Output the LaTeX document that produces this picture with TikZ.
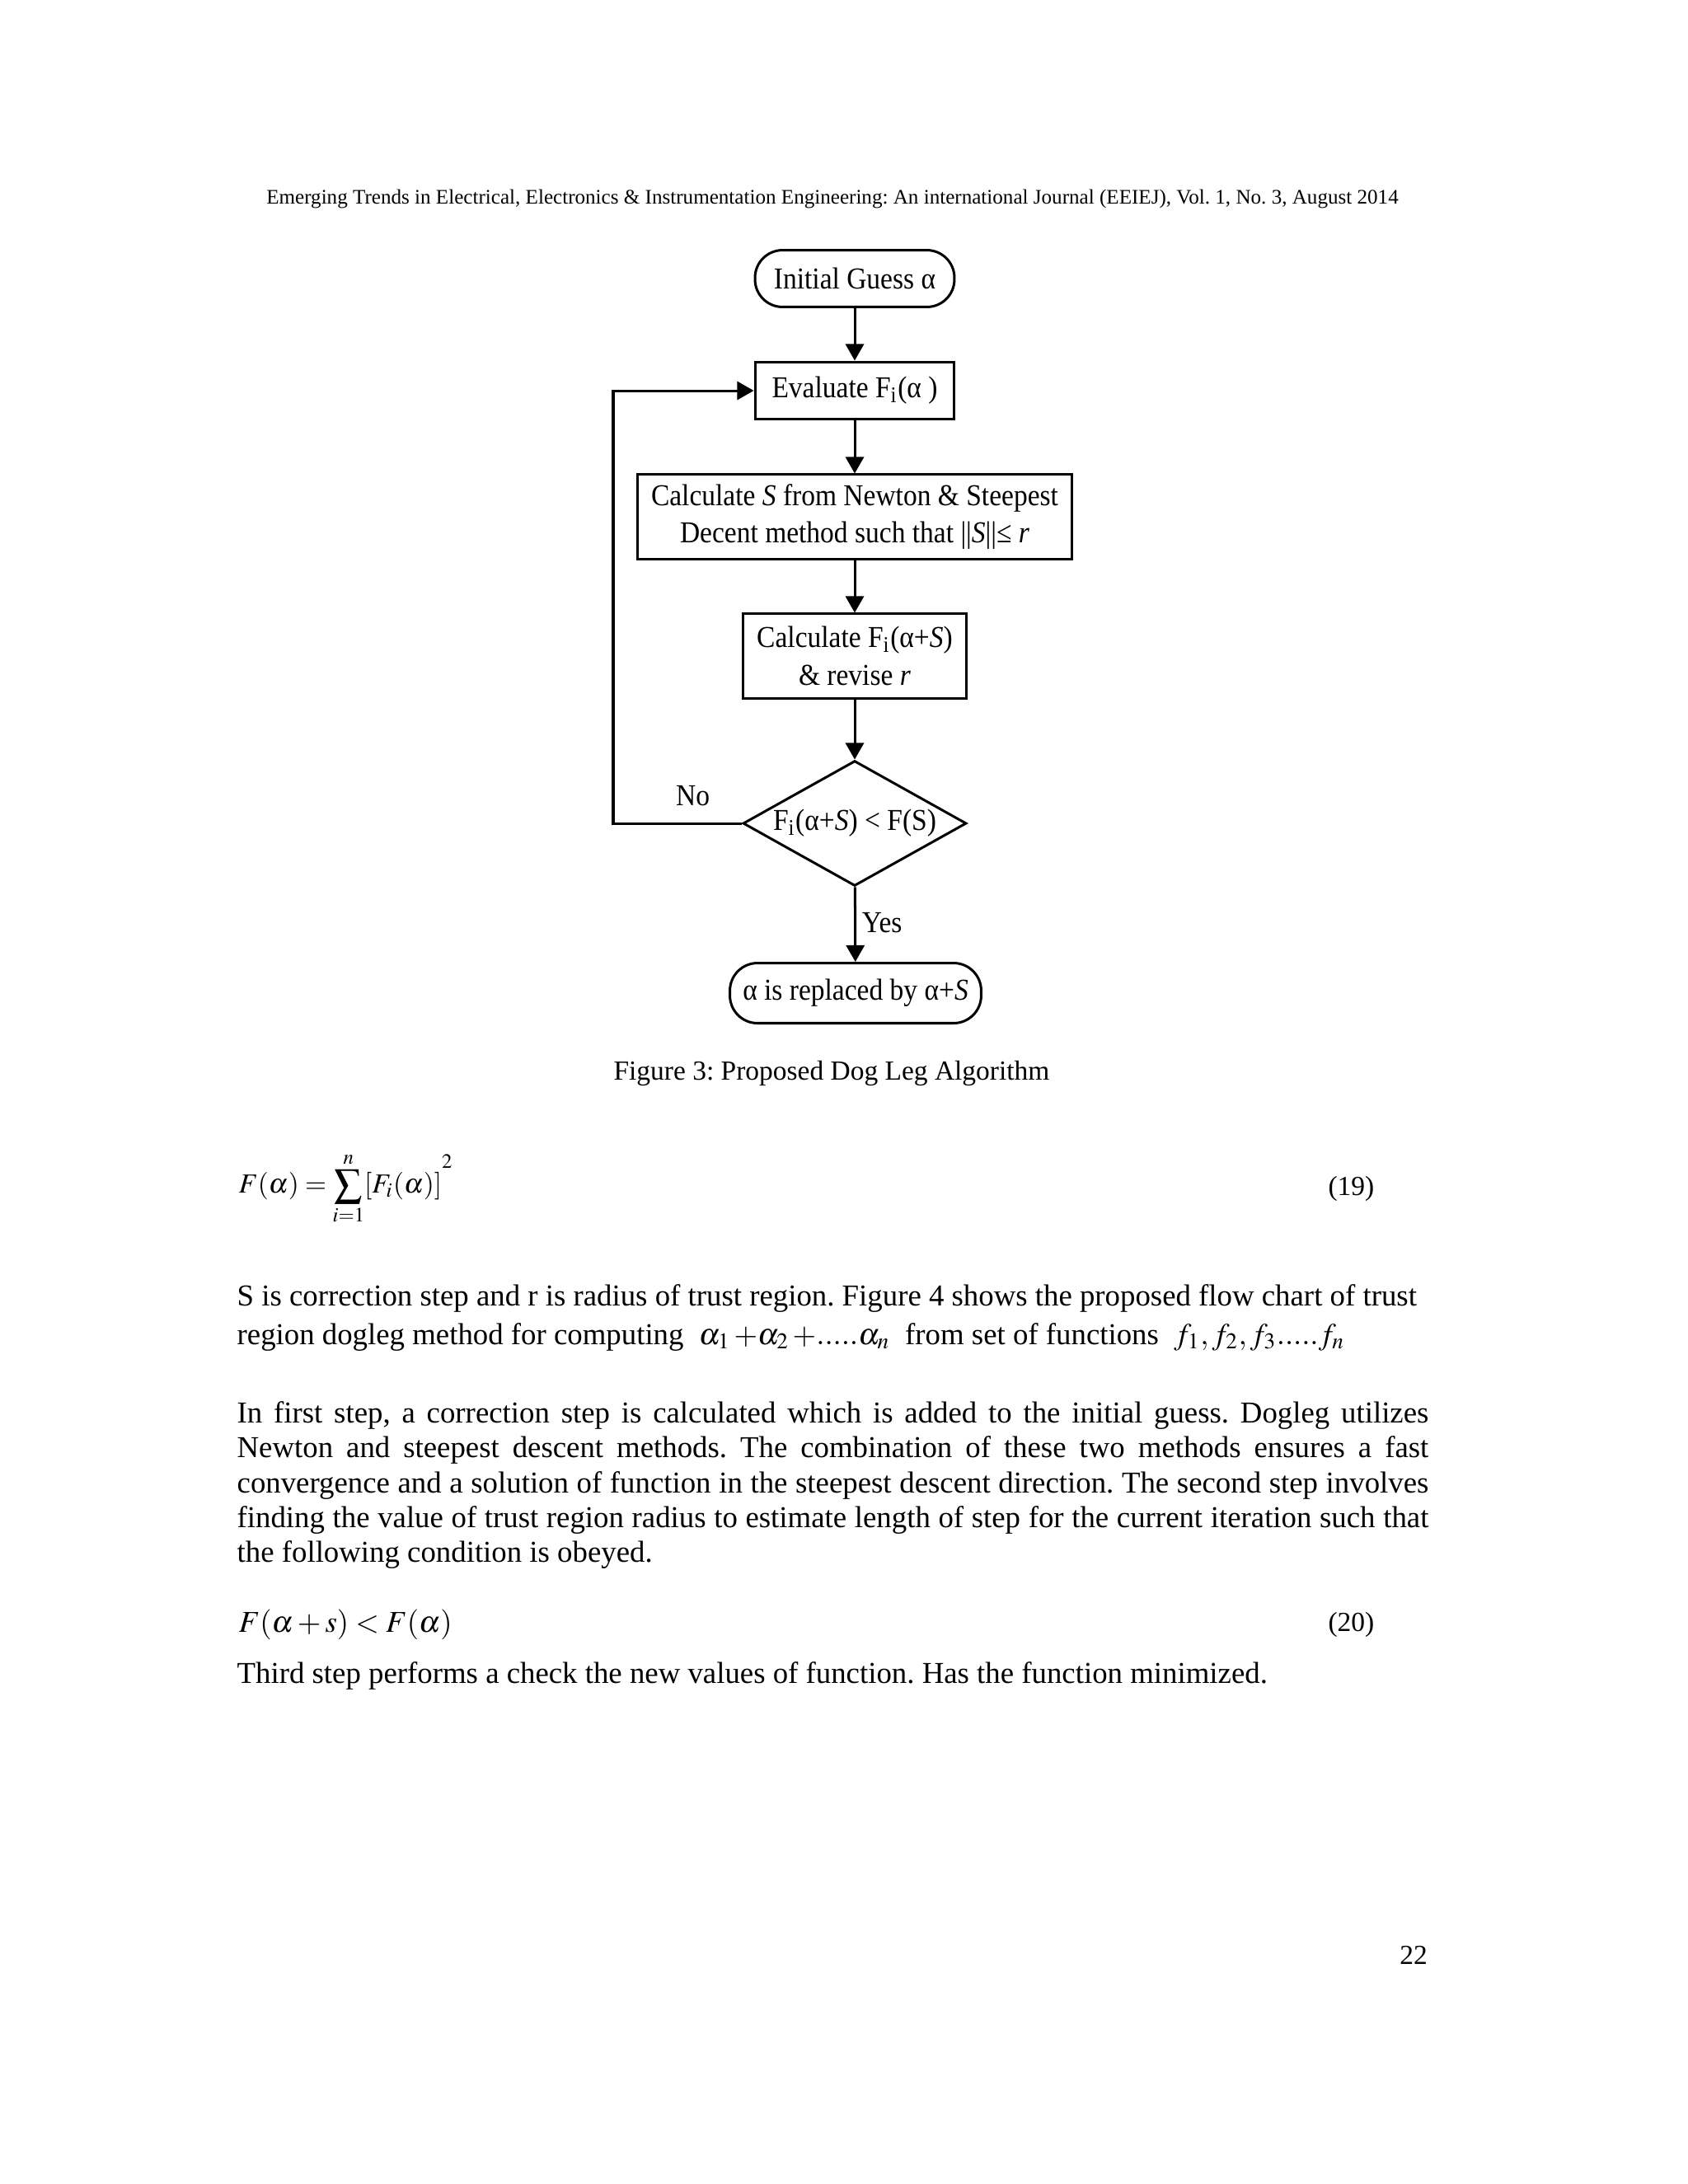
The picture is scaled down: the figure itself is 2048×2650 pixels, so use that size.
\documentclass[tikz,border=0pt]{standalone}
\usepackage{mathptmx}
\usepackage{fontspec}
\setmainfont{Liberation Serif}
\newfontfamily\chartfont[FakeStretch=0.91]{Liberation Serif}
\usetikzlibrary{shapes.geometric,arrows.meta}
\frenchspacing

\tikzset{
  proc/.style={draw,line width=0.9pt,align=center,inner sep=0pt,
    font=\chartfont\fontsize{11}{13.6}\selectfont},
  term/.style={proc,rounded corners=10pt},
  decision/.style={proc,diamond,aspect=1.8},
  flow/.style={line width=0.9pt,-{Triangle[length=6pt,width=6.6pt]}},
  lbl/.style={inner sep=1pt,font=\chartfont\fontsize{11}{13.6}\selectfont},
  body/.style={anchor=base west,inner sep=0pt,font=\fontsize{11}{12.6}\selectfont},
}

\begin{document}
\begin{tikzpicture}[x=0.29883pt,y=-0.29883pt]
    %% Page
    \fill[white] (0,0) rectangle (2048,2650);
    \useasboundingbox (0,0) rectangle (2048,2650);
    \node[anchor=base,inner sep=0pt,font=\fontsize{7.5}{9}\selectfont] (head) at (1010,247)
        {Emerging Trends in Electrical, Electronics \& Instrumentation Engineering: An international Journal (EEIEJ), Vol. 1, No. 3, August 2014};
    %% Flow chart
    \node[term,minimum width=72.3pt,minimum height=20.6pt] (init) at (1037,338) {Initial Guess α};
    \node[proc,minimum width=72.3pt,minimum height=20.9pt] (eval) at (1037,474) {Evaluate F\textsubscript{i}(α )};
    \node[proc,minimum width=157.2pt,minimum height=30.5pt] (calcS) at (1037,627)
        {Calculate \textit{S} from Newton \& Steepest\\Decent method such that ||\textit{S}||≤ \textit{r}};
    \node[proc,minimum width=81pt,minimum height=30.5pt] (calcF) at (1037,796)
        {Calculate F\textsubscript{i}(α+\textit{S})\\\& revise \textit{r}};
    \node[decision,minimum width=81pt,minimum height=45.4pt] (check) at (1037,999)
        {F\textsubscript{i}(α+\textit{S}) < F(S)};
    \node[term,minimum width=91.1pt,minimum height=21.8pt] (done) at (1038,1205) {α is replaced by α+\textit{S}};
    \coordinate (back) at (744,0);
    \draw[flow] (init) -- (eval);
    \draw[flow] (eval) -- (calcS);
    \draw[flow] (calcS) -- (calcF);
    \draw[flow] (calcF) -- (check);
    \draw[flow] (check) -- node[lbl,right=1pt,pos=0.48] (yes) {Yes} (done);
    \draw[flow] (check.west) -- node[lbl,above=5pt,pos=0.38] (no) {No} (check.west -| back) |- (eval.west);
    \node[body,anchor=base,font=\fontsize{10}{12}\selectfont] (caption) at (1009,1310) {Figure 3: Proposed Dog Leg Algorithm};
    %% Equation 19
    \node[anchor=west,inner sep=0pt,font=\fontsize{10}{12}\selectfont] (eqa) at (289,1442)
        {$\displaystyle F(\alpha)=\sum_{i=1}^{n}[F_i(\alpha)]^{\raisebox{5pt}{$\scriptstyle 2$}}$};
    \node[anchor=east,inner sep=0pt,font=\fontsize{10}{12}\selectfont] (eqanum) at (1668,1442) {(19)};
    %% Text
    \node[body] (pa1) at (287,1584) {S is correction step and r is radius of trust region. Figure 4 shows the proposed flow chart of trust};
    \node[body] (pa2) at (287,1631) {region dogleg method for computing \ $\alpha_1\,{+}\alpha_2\,{+}.....\alpha_n$ \ from set of functions \ $f_1{,}\,f_2{,}\,f_3.....f_n$};
    \node[body] (pb1) at (287,1726) {\makebox[432pt][s]{In first step, a correction step is calculated which is added to the initial guess. Dogleg utilizes}};
    \node[body] (pb2) at (287,1768) {\makebox[432pt][s]{Newton and steepest descent methods. The combination of these two methods ensures a fast}};
    \node[body] (pb3) at (287,1811) {\makebox[432pt][s]{convergence and a solution of function in the steepest descent direction. The second step involves}};
    \node[body] (pb4) at (287,1853) {\makebox[432pt][s]{finding the value of trust region radius to estimate length of step for the current iteration such that}};
    \node[body] (pb5) at (287,1895) {the following condition is obeyed.};
    %% Equation 20
    \node[anchor=west,inner sep=0pt,font=\fontsize{11}{13}\selectfont] (eqb) at (289,1971) {$F(\alpha+s)<F(\alpha)$};
    \node[anchor=east,inner sep=0pt,font=\fontsize{10}{12}\selectfont] (eqbnum) at (1668,1971) {(20)};
    \node[body] (pc1) at (287,2042) {Third step performs a check the new values of function. Has the function minimized.};
    %% Page number
    \node[body,anchor=base,font=\fontsize{10}{12}\selectfont] (pageno) at (1715,2383) {22};
\end{tikzpicture}
\end{document}
